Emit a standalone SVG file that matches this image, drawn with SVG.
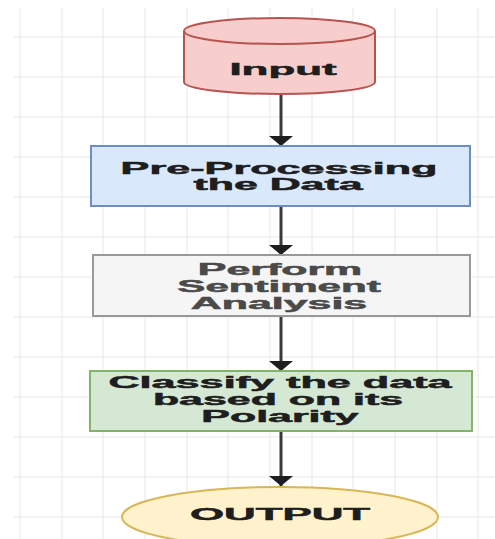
<svg xmlns="http://www.w3.org/2000/svg" width="495" height="539" viewBox="0 0 495 539">
<style>
.grid line{stroke:#e8e8e8;stroke-width:1}
.lbl{font-family:"Liberation Sans",Arial,sans-serif;font-weight:bold;font-size:16px;fill:#1e1e1e;stroke:#1e1e1e;stroke-width:0.5;text-anchor:middle}
.big{font-size:17px}
.gray{fill:#4a4a4a;stroke:#4a4a4a}
.edge{stroke:#3a3a3a;stroke-width:3;fill:none}
</style>
<defs>
<marker id="ah" viewBox="0 0 10 24" refX="10" refY="12" markerWidth="10" markerHeight="24" markerUnits="userSpaceOnUse" orient="auto">
<path d="M0,0 L10,12 L0,24 Z" fill="#1e1e1e"/>
</marker>
</defs>
<rect x="0" y="0" width="495" height="539" fill="#ffffff"/>
<g class="grid">
<line x1="20" y1="8" x2="20" y2="539"/><line x1="62" y1="8" x2="62" y2="539"/><line x1="103" y1="8" x2="103" y2="539"/><line x1="145" y1="8" x2="145" y2="539"/><line x1="187" y1="8" x2="187" y2="539"/><line x1="228" y1="8" x2="228" y2="539"/><line x1="270" y1="8" x2="270" y2="539"/><line x1="312" y1="8" x2="312" y2="539"/><line x1="353" y1="8" x2="353" y2="539"/><line x1="395" y1="8" x2="395" y2="539"/><line x1="437" y1="8" x2="437" y2="539"/><line x1="478" y1="8" x2="478" y2="539"/>
<line x1="13" y1="37" x2="495" y2="37"/><line x1="13" y1="77" x2="495" y2="77"/><line x1="13" y1="117" x2="495" y2="117"/><line x1="13" y1="157" x2="495" y2="157"/><line x1="13" y1="197" x2="495" y2="197"/><line x1="13" y1="237" x2="495" y2="237"/><line x1="13" y1="277" x2="495" y2="277"/><line x1="13" y1="317" x2="495" y2="317"/><line x1="13" y1="357" x2="495" y2="357"/><line x1="13" y1="397" x2="495" y2="397"/><line x1="13" y1="437" x2="495" y2="437"/><line x1="13" y1="477" x2="495" y2="477"/><line x1="13" y1="517" x2="495" y2="517"/>
</g>
<g id="connectors">
<line class="edge" x1="281" y1="94" x2="281" y2="146" marker-end="url(#ah)"/>
<line class="edge" x1="281" y1="206" x2="281" y2="255" marker-end="url(#ah)"/>
<line class="edge" x1="281" y1="316" x2="281" y2="371" marker-end="url(#ah)"/>
<line class="edge" x1="281" y1="431" x2="281" y2="486" marker-end="url(#ah)"/>
</g>
<g id="input">
<path d="M184,31 L184,82 A95.5,12 0 0 0 375,82 L375,31 A95.5,13 0 0 0 184,31 Z" fill="#f8cecc" stroke="#b85450" stroke-width="2"/>
<path d="M184,31 A95.5,13 0 0 0 375,31" fill="none" stroke="#b85450" stroke-width="2"/>
<text class="lbl big" transform="matrix(2.58 0 0 1 283 75)">Input</text>
</g>
<g id="preprocess">
<rect x="91" y="146" width="379" height="60" fill="#dae8fc" stroke="#6c8ebf" stroke-width="2"/>
<text class="lbl" transform="matrix(2.7 0 0 1 279 174)">Pre-Processing</text>
<text class="lbl" transform="matrix(2.68 0 0 1 278 190)">the Data</text>
</g>
<g id="sentiment">
<rect x="93" y="255" width="377" height="61" fill="#f5f5f5" stroke="#999999" stroke-width="2"/>
<text class="lbl gray" transform="matrix(2.68 0 0 1 280 275)">Perform</text>
<text class="lbl gray" transform="matrix(2.63 0 0 1 279 292)">Sentiment</text>
<text class="lbl gray" transform="matrix(2.68 0 0 1 279 309)">Analysis</text>
</g>
<g id="classify">
<rect x="90" y="371" width="382" height="60" fill="#d5e8d4" stroke="#82b366" stroke-width="2"/>
<text class="lbl" transform="matrix(2.7 0 0 1 280 388)">Classify the data</text>
<text class="lbl" transform="matrix(2.68 0 0 1 278 405)">based on its</text>
<text class="lbl" transform="matrix(2.68 0 0 1 280 422)">Polarity</text>
</g>
<g id="output">
<ellipse cx="280" cy="517" rx="158" ry="30" fill="#fff2cc" stroke="#d6b656" stroke-width="2"/>
<text class="lbl big" transform="matrix(2.58 0 0 1 280 520)">OUTPUT</text>
</g>
</svg>
